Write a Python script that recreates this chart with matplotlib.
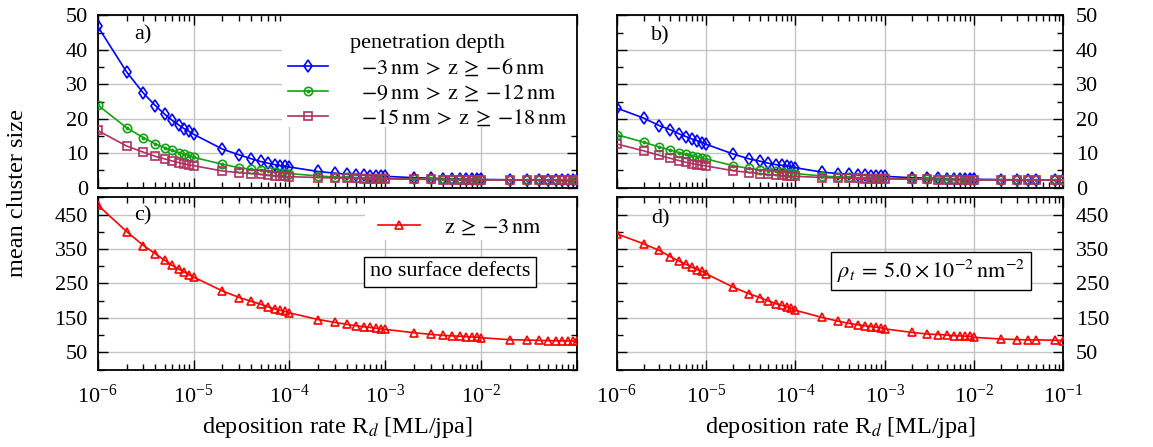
import numpy as np
import matplotlib
matplotlib.use("Agg")
import matplotlib.pyplot as plt
from matplotlib.ticker import LogLocator, MultipleLocator, NullFormatter, FuncFormatter
from matplotlib.patches import Rectangle
from matplotlib.legend_handler import HandlerTuple

plt.rcParams['font.family'] = ['Liberation Serif', 'DejaVu Serif']
plt.rcParams['mathtext.fontset'] = 'stix'
plt.rcParams['font.size'] = 16

# deposition rates, left panels (a, c)
x_left = [1e-6, 2e-6, 3e-6, 4e-6, 5e-6, 6e-6, 7e-6, 8e-6, 9e-6,
          1e-5, 2e-5, 3e-5, 4e-5, 5e-5, 6e-5, 7e-5, 8e-5, 9e-5,
          1e-4, 2e-4, 3e-4, 4e-4, 5e-4, 6e-4, 7e-4, 8e-4, 9e-4,
          1e-3, 2e-3, 3e-3, 4e-3, 5e-3, 6e-3, 7e-3, 8e-3, 9e-3,
          1e-2, 2e-2, 3e-2, 4e-2, 5e-2, 6e-2, 7e-2, 8e-2, 9e-2,
          1e-1]
# deposition rates, right panels (b, d)
x_right = [1e-6, 2e-6, 3e-6, 4e-6, 5e-6, 6e-6, 7e-6, 8e-6, 9e-6,
           1e-5, 2e-5, 3e-5, 4e-5, 5e-5, 6e-5, 7e-5, 8e-5, 9e-5,
           1e-4, 2e-4, 3e-4, 4e-4, 5e-4, 6e-4, 7e-4, 8e-4, 9e-4,
           1e-3, 2e-3, 3e-3, 4e-3, 5e-3, 6e-3, 7e-3, 8e-3, 9e-3,
           1e-2, 2e-2, 3e-2, 4e-2, 5e-2, 8e-2, 1e-1]

# a) no surface defects
a_z6 = [46.8, 33.6, 27.4, 23.8, 21.3, 19.5, 18.2, 17.1, 16.3,
        15.5, 11.2, 9.5, 8.4, 7.6, 7.1, 6.7, 6.4, 6.2,
        6.0, 4.7, 4.2, 3.9, 3.7, 3.6, 3.5, 3.4, 3.35,
        3.3, 2.9, 2.75, 2.65, 2.6, 2.55, 2.5, 2.45, 2.45,
        2.4, 2.3, 2.25, 2.25, 2.2, 2.2, 2.2, 2.2, 2.2,
        2.2]
a_z12 = [24.0, 17.4, 14.5, 12.7, 11.6, 10.8, 10.2, 9.7, 9.3,
         8.8, 6.8, 5.8, 5.3, 5.0, 4.75, 4.55, 4.4, 4.25,
         4.1, 3.4, 3.1, 3.0, 2.9, 2.85, 2.8, 2.75, 2.7,
         2.7, 2.55, 2.5, 2.45, 2.4, 2.4, 2.35, 2.35, 2.3,
         2.3, 2.25, 2.2, 2.2, 2.2, 2.2, 2.2, 2.2, 2.2,
         2.2]
a_z18 = [16.6, 12.1, 10.3, 9.1, 8.35, 7.75, 7.3, 6.9, 6.6,
         6.4, 4.85, 4.35, 4.1, 3.85, 3.65, 3.5, 3.4, 3.3,
         3.2, 2.95, 2.8, 2.75, 2.7, 2.65, 2.6, 2.6, 2.55,
         2.55, 2.45, 2.4, 2.35, 2.35, 2.3, 2.3, 2.3, 2.3,
         2.25, 2.2, 2.2, 2.2, 2.2, 2.2, 2.2, 2.2, 2.2,
         2.2]
# c) surface, no defects
c_z3 = [477.7, 400.6, 360, 336, 317, 302, 291.6, 283, 275.4,
        268.5, 228, 209, 198, 189.6, 181.8, 176, 172, 168.5,
        164.5, 145, 136.7, 131, 127, 124, 122, 120, 118,
        116.5, 106.7, 102, 99, 97.7, 96.5, 95.5, 94.5, 94,
        92.2, 86.5, 85.5, 84.5, 84, 83.5, 83, 83, 82.5,
        82.5]

# b) with surface defects
b_z6 = [23.1, 20.2, 18.0, 16.8, 15.6, 14.8, 14.1, 13.6, 13.1,
        12.6, 9.8, 8.4, 7.7, 7.1, 6.7, 6.5, 6.3, 6.1,
        5.8, 4.5, 4.1, 3.9, 3.7, 3.6, 3.5, 3.4, 3.35,
        3.3, 2.9, 2.75, 2.7, 2.65, 2.6, 2.55, 2.5, 2.5,
        2.45, 2.35, 2.3, 2.3, 2.3, 2.25, 2.25]
b_z12 = [15.4, 13.2, 11.8, 10.9, 10.2, 9.7, 9.3, 9.0, 8.7,
         8.35, 6.4, 5.6, 5.2, 4.9, 4.7, 4.5, 4.4, 4.3,
         4.1, 3.4, 3.1, 3.0, 2.9, 2.85, 2.8, 2.75, 2.7,
         2.7, 2.55, 2.5, 2.45, 2.45, 2.4, 2.4, 2.35, 2.35,
         2.3, 2.25, 2.25, 2.25, 2.25, 2.2, 2.2]
b_z18 = [12.7, 10.7, 9.4, 8.5, 7.85, 7.35, 7.0, 6.7, 6.5,
         6.3, 4.95, 4.4, 4.1, 3.85, 3.7, 3.55, 3.45, 3.35,
         3.3, 2.95, 2.8, 2.75, 2.7, 2.65, 2.6, 2.6, 2.55,
         2.55, 2.45, 2.4, 2.35, 2.35, 2.3, 2.3, 2.3, 2.3,
         2.25, 2.2, 2.2, 2.2, 2.2, 2.2, 2.2]
# d) surface with defects
d_z3 = [394, 365, 345.7, 327.5, 314.7, 305, 296.5, 290, 285,
        278, 239.6, 220.5, 209, 199, 191.6, 186.7, 181.8, 178,
        172, 151, 140.5, 133.8, 130, 127, 124.6, 123, 121,
        118, 107.8, 103, 101.6, 100, 98.5, 97.5, 96.5, 96,
        93.4, 88.5, 87, 86, 86, 85, 84]

labels_deep = [r'$-3\,\mathrm{nm}\:>\:\mathrm{z}\:\geq\:{-6}\,\mathrm{nm}$',
               r'$-9\,\mathrm{nm}\:>\:\mathrm{z}\:\geq\:{-12}\,\mathrm{nm}$',
               r'$-15\,\mathrm{nm}\:>\:\mathrm{z}\:\geq\:{-18}\,\mathrm{nm}$']
label_surf = r'$\mathrm{z}\:\geq\:{-3}\,\mathrm{nm}$'

BLUE = '#0000ff'
GREEN = '#16a016'
MAUVE = '#b03060'
RED = '#ff0000'

W, H = 1153, 447
fig = plt.figure(figsize=(W / 100, H / 100), dpi=100)


def box(x0, x1, ytop, ybot):
    return [x0 / W, 1 - ybot / H, (x1 - x0) / W, (ybot - ytop) / H]


ax_a = fig.add_axes(box(97.7, 577, 15.3, 187.7))
ax_b = fig.add_axes(box(616.7, 1063.3, 15.3, 187.7))
ax_c = fig.add_axes(box(97.7, 577, 197.3, 369.5))
ax_d = fig.add_axes(box(616.7, 1063.3, 197.3, 369.5))


def log_label(v, pos, hide_last):
    if hide_last and v > 0.05:
        return ''
    e = int(round(np.log10(v)))
    return r'$\mathdefault{10^{%d}}$' % e


for ax in (ax_a, ax_b, ax_c, ax_d):
    ax.set_xscale('log')
    ax.set_xlim(1e-6, 1e-1)
    ax.xaxis.set_major_locator(LogLocator(base=10, numticks=10))
    ax.xaxis.set_minor_locator(LogLocator(base=10, subs=np.arange(2, 10), numticks=20))
    ax.xaxis.set_minor_formatter(NullFormatter())
    ax.tick_params(which='both', direction='in', top=True, bottom=True,
                   left=True, right=True, width=1)
    ax.tick_params(which='major', length=7)
    ax.tick_params(which='minor', length=4)
    ax.grid(True, which='major', color='#c4c4c4', linewidth=1)
    ax.set_axisbelow(True)
    for s in ax.spines.values():
        s.set_linewidth(1.3)

for ax in (ax_a, ax_b):
    ax.set_ylim(0, 50)
    ax.yaxis.set_major_locator(MultipleLocator(10))
    ax.yaxis.set_minor_locator(MultipleLocator(5))
    ax.tick_params(axis='x', labelbottom=False)

for ax in (ax_c, ax_d):
    ax.set_ylim(0, 500)
    ax.yaxis.set_major_locator(MultipleLocator(100, offset=50))
    ax.yaxis.set_minor_locator(MultipleLocator(50))
    ax.tick_params(axis='x', pad=11)
    ax.set_xlabel(r'deposition rate R$_d$ [ML/jpa]', labelpad=5, fontsize=17.5)

ax_c.xaxis.set_major_formatter(FuncFormatter(lambda v, p: log_label(v, p, True)))
ax_d.xaxis.set_major_formatter(FuncFormatter(lambda v, p: log_label(v, p, False)))

for ax in (ax_a, ax_c):
    ax.tick_params(axis='y', pad=7)
for ax in (ax_b, ax_d):
    ax.tick_params(axis='y', labelleft=False, labelright=True, pad=9)


def deep_series(ax, x, y6, y12, y18):
    kw = dict(linewidth=1.2, markeredgewidth=1.2, fillstyle='none', zorder=3)
    l1, = ax.plot(x, y6, color=BLUE, marker='d', markersize=6, **kw)
    l2, = ax.plot(x, y12, color=GREEN, marker='o', markersize=6, **kw)
    d2, = ax.plot(x, y12, color=GREEN, marker='o', markersize=1.8, linestyle='none', zorder=3)
    l3, = ax.plot(x, y18, color=MAUVE, marker='s', markersize=5.5, **kw)
    return [l1, (l2, d2), l3]


def surf_series(ax, x, y):
    l, = ax.plot(x, y, color=RED, marker='^', linewidth=1.2, markersize=6,
                 markeredgewidth=1.2, fillstyle='none', zorder=3)
    return l


handles = deep_series(ax_a, x_left, a_z6, a_z12, a_z18)
deep_series(ax_b, x_right, b_z6, b_z12, b_z18)
h_surf = surf_series(ax_c, x_left, c_z3)
surf_series(ax_d, x_right, d_z3)

# white key backgrounds that hide the grid
ax_a.add_patch(Rectangle((0.3845, 0.352), 0.6155, 0.648, transform=ax_a.transAxes,
                         facecolor='white', edgecolor='none', zorder=1))
ax_c.add_patch(Rectangle((0.558, 0.752), 0.442, 0.248, transform=ax_c.transAxes,
                         facecolor='white', edgecolor='none', zorder=1))

ax_a.legend(handles, labels_deep, title='penetration depth', loc='upper left',
            bbox_to_anchor=(0.397, 0.89), frameon=False, borderpad=0, borderaxespad=0,
            handlelength=1.8, handletextpad=1.5, labelspacing=0.2,
            title_fontsize=16, fontsize=16,
            handler_map={tuple: HandlerTuple(ndivide=1, pad=0)})
ax_c.legend([h_surf], [label_surf], loc='upper left', bbox_to_anchor=(0.585, 0.883),
            frameon=False, borderpad=0, borderaxespad=0,
            handlelength=1.9, handletextpad=1.05, fontsize=16)

ax_a.text(0.0945, 0.886, 'a)', transform=ax_a.transAxes, ha='center', va='center')
ax_b.text(0.097, 0.88, 'b)', transform=ax_b.transAxes, ha='center', va='center')
ax_c.text(0.0945, 0.891, 'c)', transform=ax_c.transAxes, ha='center', va='center')
ax_d.text(0.097, 0.872, 'd)', transform=ax_d.transAxes, ha='center', va='center')

bbox_kw = dict(boxstyle='square,pad=0.25', facecolor='white', edgecolor='black', linewidth=1)
ax_c.text(0.735, 0.568, 'no surface defects', transform=ax_c.transAxes,
          ha='center', va='center', bbox=bbox_kw, zorder=5)
ax_d.text(0.704, 0.572, r'$\rho_t\:=\:5.0\times10^{-2}\,\mathrm{nm}^{-2}$', transform=ax_d.transAxes,
          ha='center', va='center', bbox=bbox_kw, zorder=5)

fig.text(18 / W, 1 - 193 / H, 'mean cluster size', rotation=90, ha='center', va='center',
         fontsize=17.5)

fig.savefig('out.png', dpi=100)
